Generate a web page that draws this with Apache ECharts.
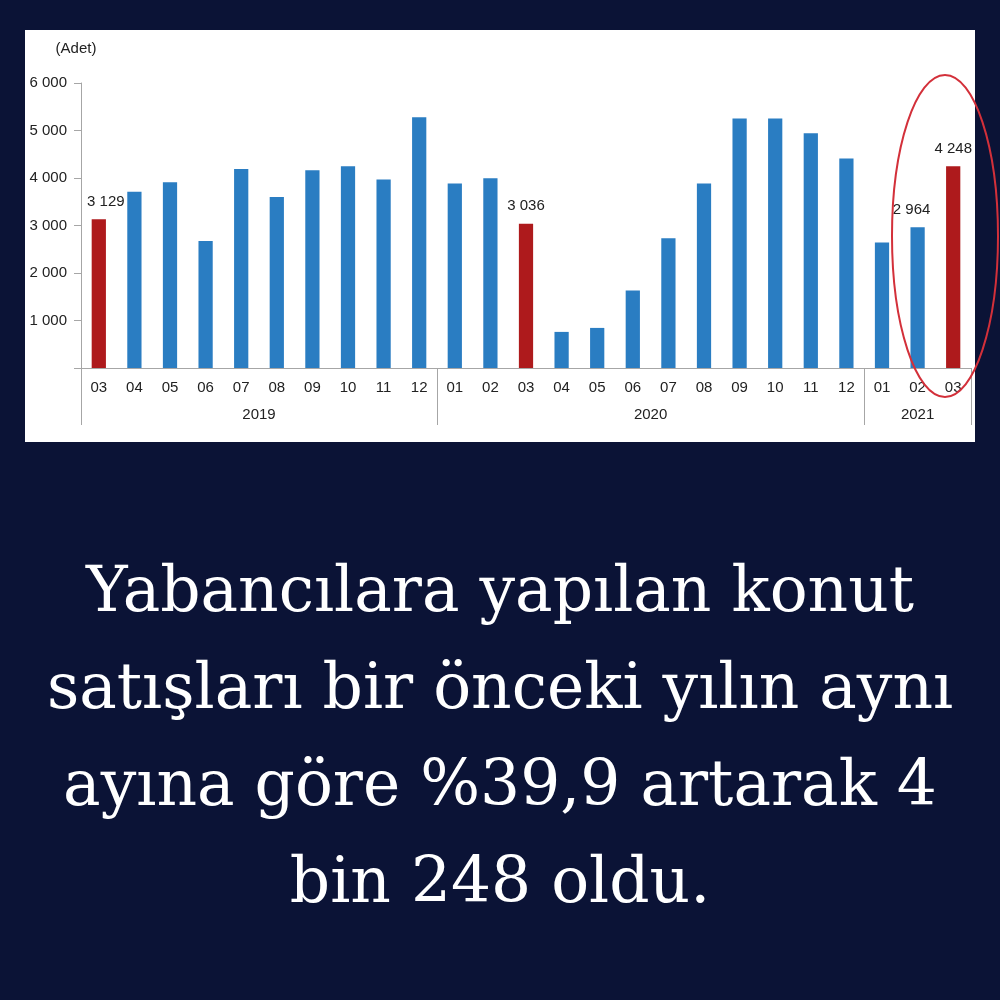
<!DOCTYPE html>
<html>
<head>
<meta charset="utf-8">
<script src="https://cdn.jsdelivr.net/npm/echarts@6/dist/echarts.min.js"></script>
<style>
  html, body { margin: 0; padding: 0; background: #0b1336; }
  #main { width: 1000px; height: 1000px; }
</style>
</head>
<body>
<div id="main"></div>
<script>
// aylar (2019/03 - 2021/03)
var months = ['03', '04', '05', '06', '07', '08', '09', '10', '11', '12',
  '01', '02', '03', '04', '05', '06', '07', '08', '09', '10', '11', '12',
  '01', '02', '03'];
var sales = [3129, 3713, 3910, 2672, 4191, 3600, 4163, 4248, 3966, 5281,
  3882, 3994, 3036, 760, 844, 1632, 2729, 3882, 5253, 5253, 4944, 4409,
  2644, 2964, 4248];
var years = ['2019', '2020', '2021'];
var yearSpans = [10, 12, 3];
var redIdx = [0, 12, 24];
var labelIdx = [0, 12, 23, 24];
var caption = ['Yabancılara yapılan konut', 'satışları bir önceki yılın aynı',
  'ayına göre %39,9 artarak 4', 'bin 248 oldu.'];

var blue = '#2a7dc2';
var red = '#ae1a1c';
var gray = '#a6a6a6';

function fmt(v) {
  return String(v).replace(/\B(?=(\d{3})+(?!\d))/g, ' ');
}

// yil ekseni: yarim kategori noktalari, boundaryGap false
var yearSlots = [];
var yearBounds = [0];
for (var i = 0; i <= 2 * months.length; i++) yearSlots.push('');
var pos = 0;
for (var k = 0; k < years.length; k++) {
  yearSlots[2 * pos + yearSpans[k]] = years[k];
  pos += yearSpans[k];
  yearBounds.push(2 * pos);
}

// etiketlerin hafif kaymasi
var labelShift = { 0: [7, 0], 23: [-6, 0] };

var barData = sales.map(function (v, i) {
  var item = { value: v, itemStyle: { color: redIdx.indexOf(i) >= 0 ? red : blue } };
  if (labelIdx.indexOf(i) >= 0) {
    item.label = {
      show: true,
      position: 'top',
      distance: 10,
      offset: labelShift[i] || [0, 0],
      formatter: function (p) { return fmt(p.value); }
    };
  }
  return item;
});

var font = 'Liberation Sans, Arial, sans-serif';

var option = {
  backgroundColor: '#0b1336',
  animation: false,
  textStyle: { fontFamily: font },
  graphic: [
    {
      type: 'rect',
      z: -10,
      shape: { x: 25, y: 30, width: 950, height: 412 },
      style: { fill: '#ffffff' }
    },
    {
      type: 'ellipse',
      z: 100,
      shape: { cx: 945, cy: 236, rx: 53, ry: 161 },
      style: { fill: 'none', stroke: '#d3303a', lineWidth: 2 }
    },
    {
      type: 'text',
      x: 500,
      y: 546,
      style: {
        text: caption.join('\n'),
        fill: '#ffffff',
        font: '63px "DejaVu Serif"',
        align: 'center',
        verticalAlign: 'top',
        lineHeight: 97
      }
    }
  ],
  grid: { left: 81, right: 29, top: 83, bottom: 632 },
  xAxis: [
    {
      type: 'category',
      data: months,
      axisLine: { lineStyle: { color: gray, width: 1 } },
      axisTick: { interval: 0, length: 30, lineStyle: { color: gray } },
      axisLabel: { interval: 0, margin: 12, color: '#222', fontSize: 15, fontFamily: font }
    },
    {
      type: 'category',
      data: yearSlots,
      boundaryGap: false,
      position: 'bottom',
      axisLine: { show: false },
      axisTick: {
        length: 57,
        lineStyle: { color: gray },
        interval: function (idx) { return yearBounds.indexOf(idx) >= 0; }
      },
      axisLabel: { interval: 0, margin: 39, color: '#222', fontSize: 15, fontFamily: font }
    }
  ],
  yAxis: {
    type: 'value',
    min: 0,
    max: 6000,
    interval: 1000,
    name: '(Adet)',
    nameGap: 27,
    nameTextStyle: { color: '#222', fontSize: 15, fontFamily: font, align: 'center', padding: [0, 10, 0, 0] },
    splitLine: { show: false },
    axisLine: { show: true, lineStyle: { color: gray } },
    axisTick: { show: true, length: 7, lineStyle: { color: gray } },
    axisLabel: {
      margin: 14,
      color: '#222',
      fontSize: 15,
      fontFamily: font,
      formatter: function (v) { return v === 0 ? '' : fmt(v); }
    }
  },
  series: [
    {
      type: 'bar',
      xAxisIndex: 0,
      data: barData,
      barWidth: '40%',
      label: { color: '#222', fontSize: 15, fontFamily: font }
    }
  ]
};

var myChart = echarts.init(document.getElementById('main'));
myChart.setOption(option);
</script>
</body>
</html>
